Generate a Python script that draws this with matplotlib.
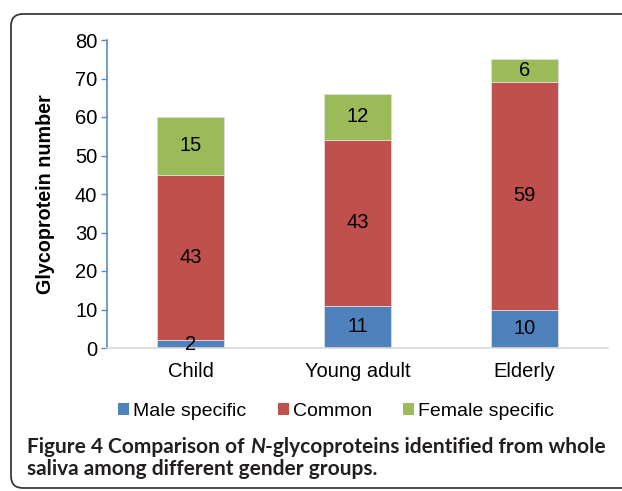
import matplotlib.pyplot as plt
from matplotlib.patches import FancyBboxPatch, Patch

plt.rcParams['font.family'] = ['Liberation Sans', 'DejaVu Sans']

# Data
groups = ['Child', 'Young adult', 'Elderly']
male = [2, 11, 10]
common = [43, 43, 59]
female = [15, 12, 6]
series_names = ['Male specific', 'Common', 'Female specific']
colors = ['#4F81BD', '#C0504D', '#9BBB59']
yticks = [0, 10, 20, 30, 40, 50, 60, 70, 80]

fig = plt.figure(figsize=(6.22, 4.91), dpi=100)

# rounded frame around the figure (pixel coords)
frame = FancyBboxPatch((11, 3), 660, 474, boxstyle='round,pad=0,rounding_size=12',
                       transform=None, fill=False, edgecolor='#3a3a3a', linewidth=1.3)
fig.patches.append(frame)

ax = fig.add_axes([107 / 622, 1 - 348 / 491, 501 / 622, 308 / 491])

x = list(range(len(groups)))
bottom2 = [m + c for m, c in zip(male, common)]
b1 = ax.bar(x, male, width=0.4, color=colors[0], edgecolor='#dddddd', linewidth=0.6)
b2 = ax.bar(x, common, width=0.4, bottom=male, color=colors[1], edgecolor='#dddddd', linewidth=0.6)
b3 = ax.bar(x, female, width=0.4, bottom=bottom2, color=colors[2], edgecolor='#dddddd', linewidth=0.6)
for bars in (b1, b2, b3):
    ax.bar_label(bars, label_type='center', fontsize=14.5, color='black')

ax.set_xlim(-0.5, 2.5)
ax.set_ylim(0, 80)
ax.set_yticks(yticks)
ax.set_xticks(x)
ax.set_xticklabels(groups)
ax.tick_params(axis='x', length=0, pad=10, labelsize=14.5)
ax.tick_params(axis='y', length=4, width=1, color='#5A8AC6', pad=3, labelsize=14.5)

for s in ['top', 'right']:
    ax.spines[s].set_visible(False)
ax.spines['left'].set_color('#5A8AC6')
ax.spines['left'].set_linewidth(1.2)
ax.spines['bottom'].set_color('#d9d9d9')
ax.spines['bottom'].set_linewidth(1.2)

ax.set_ylabel('Glycoprotein number', fontsize=14.2, fontweight='bold')
ax.yaxis.set_label_coords(-0.104, 0.5)

handles = [Patch(facecolor=c, edgecolor='none') for c in colors]
fig.legend(handles, series_names, loc='center', bbox_to_anchor=(336 / 622, 1 - 411 / 491),
           ncol=3, frameon=False, fontsize=14, handlelength=0.57, handleheight=0.57,
           handletextpad=0.2, columnspacing=1.6)

# caption with italic N
cap_font = ['Lato', 'DejaVu Sans']
cap_color = '#231F20'
y1 = 1 - 447 / 491
y2 = 1 - 469 / 491
fig.canvas.draw()
renderer = fig.canvas.get_renderer()
parts = [('Figure 4 ', 'normal'), ('Comparison of ', 'normal'),
         ('N', 'italic'),
         ('-glycoproteins identified from whole', 'normal')]
xpos = 27
for txt, st in parts:
    t = fig.text(xpos / 622, y1, txt, fontsize=15, fontweight='bold', style=st,
                 family=cap_font, color=cap_color, va='center', ha='left')
    bb = t.get_window_extent(renderer)
    xpos += bb.width
fig.text(27 / 622, y2, 'saliva among different gender groups.', fontsize=15,
         fontweight='bold', family=cap_font, color=cap_color, va='center', ha='left')

fig.savefig('out.png', dpi=100)
